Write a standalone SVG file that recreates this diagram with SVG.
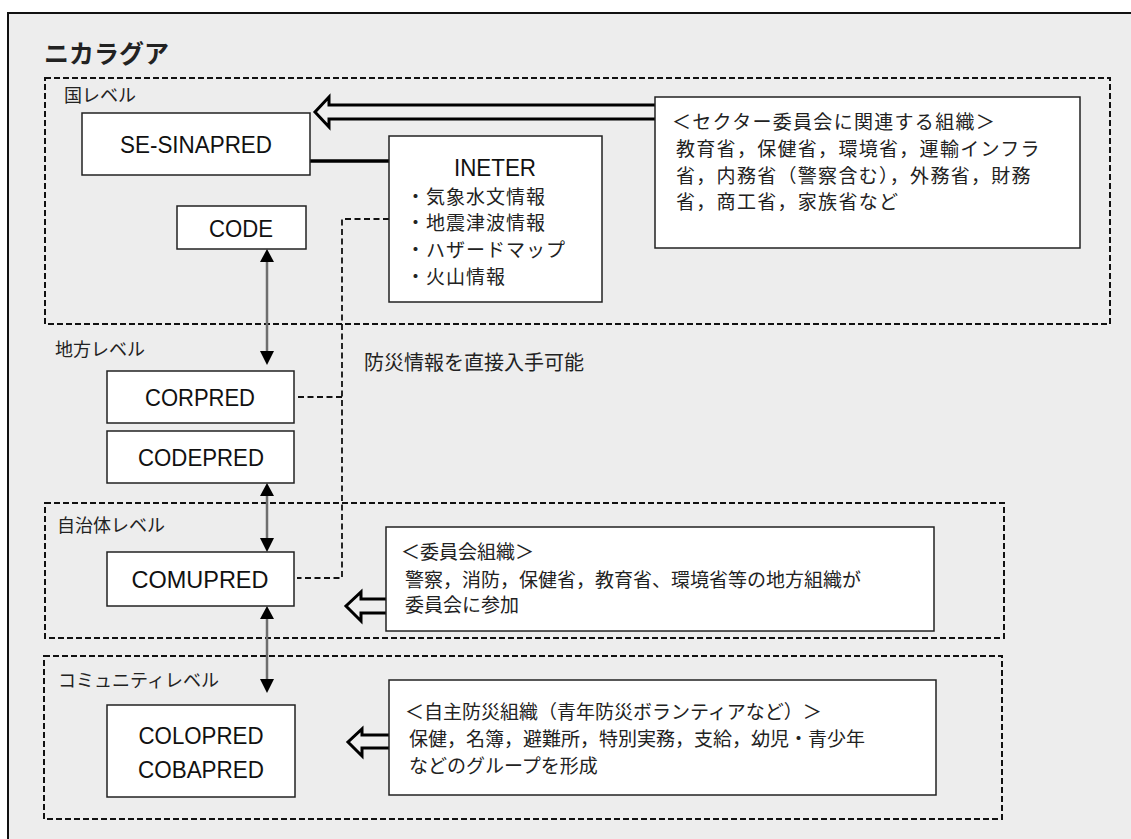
<svg xmlns="http://www.w3.org/2000/svg" width="1131" height="839" viewBox="0 0 1131 839">
<defs>
<style>
.jp{font-family:"Noto Sans CJK JP","Noto Sans",sans-serif;fill:#222;}
.en{font-family:"Liberation Sans",Arial,sans-serif;fill:#111;font-size:24px;text-anchor:middle;}
.box{fill:#fff;stroke:#222;stroke-width:1.5;}
.lvl{fill:none;stroke:#111;stroke-width:2;stroke-dasharray:6,3;}
.dash{fill:none;stroke:#111;stroke-width:1.8;stroke-dasharray:6,3.5;}
.gl{stroke:#6e6e6e;stroke-width:2.5;fill:none;}
.ah{fill:#000;}
.hollow{fill:#eee;stroke:#000;stroke-width:3;stroke-linejoin:miter;}
</style>
</defs>
<rect x="0" y="0" width="1131" height="839" fill="#fff"/>
<rect x="8" y="13" width="1135" height="840" fill="#ededed" stroke="#111" stroke-width="2"/>
<text x="44" y="63" class="jp" font-size="25" font-weight="bold" fill="#111">ニカラグア</text>

<g id="level-national">
<rect x="45" y="78" width="1065" height="246" class="lvl"/>
<text x="64" y="102" class="jp" font-size="18">国レベル</text>
</g>
<g id="level-regional">
<text x="55" y="356" class="jp" font-size="18">地方レベル</text>
</g>
<g id="level-municipal">
<rect x="45" y="503" width="959" height="135" class="lvl"/>
<text x="57" y="532" class="jp" font-size="18">自治体レベル</text>
</g>
<g id="level-community">
<rect x="44" y="656" width="958" height="163" class="lvl"/>
<text x="58" y="687" class="jp" font-size="18">コミュニティレベル</text>
</g>

<g id="connectors">
<path d="M655,105 H329 V97 L315,112 L329,127 V119 H655" class="hollow"/>
<line x1="310" y1="161" x2="389" y2="161" stroke="#000" stroke-width="3.5"/>
<path d="M389,219 H342 V578 H297" class="dash"/>
<path d="M342,397 H297" class="dash"/>
<line x1="267" y1="258" x2="267" y2="355" class="gl"/>
<polygon points="267,249 260,262 274,262" class="ah"/>
<polygon points="267,365 260,351 274,351" class="ah"/>
<line x1="267" y1="492" x2="267" y2="542" class="gl"/>
<polygon points="267,483 260,496 274,496" class="ah"/>
<polygon points="267,552 260,538 274,538" class="ah"/>
<line x1="267" y1="615" x2="267" y2="683" class="gl"/>
<polygon points="267,606 260,619 274,619" class="ah"/>
<polygon points="267,693 260,679 274,679" class="ah"/>
<path d="M386,599 H361 V592 L346,606 L361,621 V613 H386" class="hollow"/>
<path d="M389,735 H362 V729 L348,742 L362,756 V748 H389" class="hollow"/>
<text x="364" y="370" class="jp" font-size="20">防災情報を直接入手可能</text>
</g>

<g id="se-sinapred">
<rect x="82" y="113" width="228" height="62" class="box"/>
<text x="196" y="153" class="en" textLength="152" lengthAdjust="spacingAndGlyphs">SE-SINAPRED</text>
</g>
<g id="sector">
<rect x="655" y="97" width="425" height="151" class="box"/>
<text class="jp" font-size="19" letter-spacing="1.3">
<tspan x="672" y="129">＜セクター委員会に関連する組織＞</tspan>
<tspan x="676" y="156">教育省，保健省，環境省，運輸インフラ</tspan>
<tspan x="676" y="183">省，内務省（警察含む），外務省，財務</tspan>
<tspan x="676" y="209">省，商工省，家族省など</tspan>
</text>
</g>
<g id="ineter">
<rect x="389" y="136" width="213" height="166" class="box"/>
<text x="495" y="176" class="en" textLength="82" lengthAdjust="spacingAndGlyphs">INETER</text>
<text class="jp" font-size="19" letter-spacing="1">
<tspan x="406" y="204">・気象水文情報</tspan>
<tspan x="406" y="230">・地震津波情報</tspan>
<tspan x="406" y="257">・ハザードマップ</tspan>
<tspan x="406" y="284">・火山情報</tspan>
</text>
</g>
<g id="code">
<rect x="177" y="206" width="129" height="43" class="box"/>
<text x="241" y="237" class="en" textLength="64" lengthAdjust="spacingAndGlyphs">CODE</text>
</g>
<g id="corpred">
<rect x="107" y="371" width="187" height="52" class="box"/>
<text x="200" y="406" class="en" textLength="110" lengthAdjust="spacingAndGlyphs">CORPRED</text>
</g>
<g id="codepred">
<rect x="107" y="431" width="187" height="52" class="box"/>
<text x="201" y="466" class="en" textLength="126" lengthAdjust="spacingAndGlyphs">CODEPRED</text>
</g>
<g id="comupred">
<rect x="107" y="552" width="187" height="54" class="box"/>
<text x="200" y="588" class="en" textLength="137" lengthAdjust="spacingAndGlyphs">COMUPRED</text>
</g>
<g id="committee">
<rect x="386" y="527" width="548" height="104" class="box"/>
<text class="jp" font-size="19">
<tspan x="401" y="559">＜委員会組織＞</tspan>
<tspan x="405" y="587">警察，消防，保健省，教育省、環境省等の地方組織が</tspan>
<tspan x="405" y="612">委員会に参加</tspan>
</text>
</g>
<g id="colopred">
<rect x="107" y="705" width="188" height="92" class="box"/>
<text x="201" y="744" class="en" textLength="125" lengthAdjust="spacingAndGlyphs">COLOPRED</text>
<text x="201" y="778" class="en" textLength="126" lengthAdjust="spacingAndGlyphs">COBAPRED</text>
</g>
<g id="volunteer">
<rect x="389" y="680" width="547" height="115" class="box"/>
<text class="jp" font-size="19">
<tspan x="405" y="719">＜自主防災組織（青年防災ボランティアなど）＞</tspan>
<tspan x="409" y="746">保健，名簿，避難所，特別実務，支給，幼児・青少年</tspan>
<tspan x="409" y="773">などのグループを形成</tspan>
</text>
</g>
</svg>
